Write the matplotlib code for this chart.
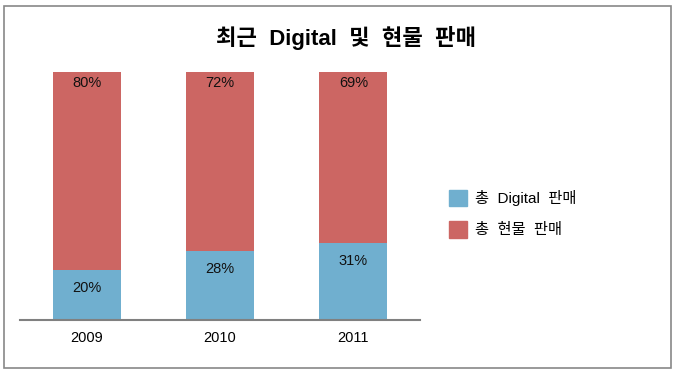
import numpy as np
import matplotlib
matplotlib.use("Agg")
import matplotlib.pyplot as plt
from matplotlib.patches import Rectangle, Patch

plt.rcParams['font.family'] = ['Liberation Sans', 'Noto Sans CJK KR', 'DejaVu Sans']

years = ["2009", "2010", "2011"]
digital = [20, 28, 31]
physical = [80, 72, 69]
series_names = ["총  Digital  판매", "총  현물  판매"]
title = "최근  Digital  및  현물  판매"

blue = "#70AFCF"
red = "#CC6663"

fig = plt.figure(figsize=(6.75, 3.75), dpi=100)
ax = fig.add_axes([0.0296, 0.1467, 0.5926, 0.6613])

x = np.arange(len(years))
ax.bar(x, digital, width=0.51, color=blue)
ax.bar(x, physical, width=0.51, bottom=digital, color=red)

for i in range(len(years)):
    ax.annotate(f"{digital[i]}%", (x[i], digital[i]), xytext=(0, -18),
                textcoords="offset pixels", ha="center", va="center", fontsize=10.5, color="#111111")
    ax.annotate(f"{physical[i]}%", (x[i], digital[i] + physical[i]), xytext=(0, -11),
                textcoords="offset pixels", ha="center", va="center", fontsize=10.5, color="#111111")

ax.set_xlim(-0.5, 2.5)
ax.set_ylim(0, 100)
ax.set_xticks(x)
ax.set_xticklabels(years, fontsize=10.5)
ax.tick_params(axis="x", length=0, pad=8)
ax.set_yticks([])
for s in ["top", "right", "left"]:
    ax.spines[s].set_visible(False)
ax.spines["bottom"].set_color("#808080")
ax.spines["bottom"].set_linewidth(1.5)

fig.text(0.512, 0.9, title, ha="center", va="center", fontsize=16, fontweight="semibold")

handles = [Patch(color=blue), Patch(color=red)]
fig.legend(handles, series_names, loc="center left", bbox_to_anchor=(0.645, 0.43),
           frameon=False, fontsize=11, handlelength=1.2, handleheight=1.3,
           labelspacing=0.95, handletextpad=0.5)

fig.patches.append(Rectangle((4 / 675, 1 - 368 / 375), 667 / 675, 362 / 375,
                             transform=fig.transFigure, fill=False,
                             edgecolor="#888888", linewidth=1.2))

fig.savefig("out.png", dpi=100)
